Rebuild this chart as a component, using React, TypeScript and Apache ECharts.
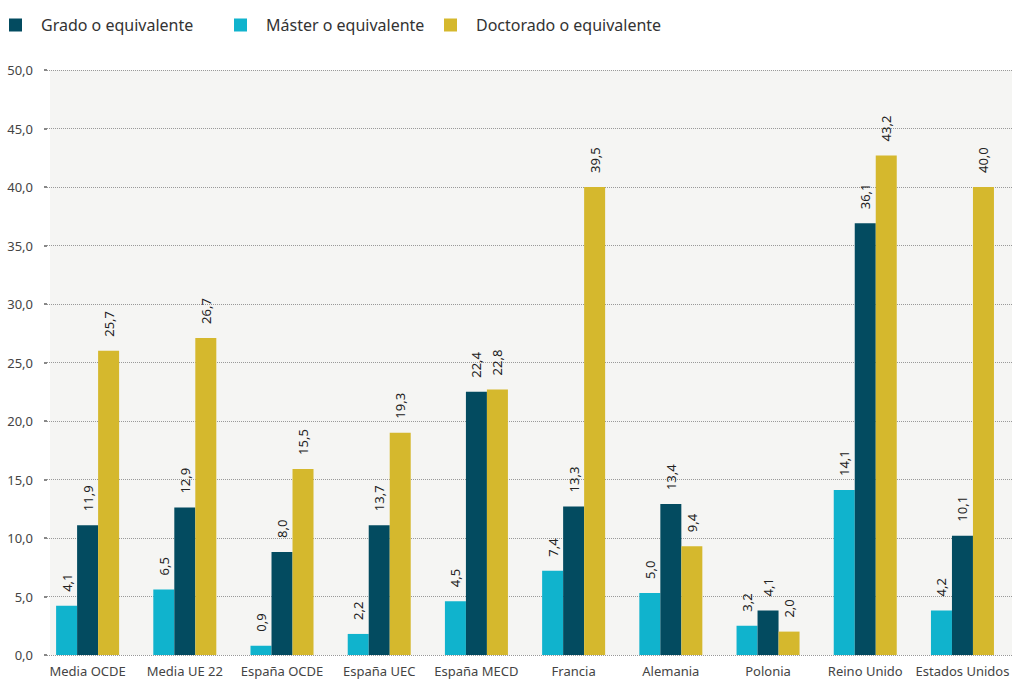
import React, { useEffect, useRef } from "react";
import * as echarts from "echarts";

const categories = [
  "Media OCDE",
  "Media UE 22",
  "España OCDE",
  "España UEC",
  "España MECD",
  "Francia",
  "Alemania",
  "Polonia",
  "Reino Unido",
  "Estados Unidos",
];

// bar heights as drawn
const masterValues = [4.2, 5.6, 0.8, 1.8, 4.6, 7.2, 5.3, 2.5, 14.1, 3.8];
const gradoValues = [11.1, 12.6, 8.8, 11.1, 22.5, 12.7, 12.9, 3.8, 36.9, 10.2];
const doctoradoValues = [26.0, 27.1, 15.9, 19.0, 22.7, 40.0, 9.3, 2.0, 42.7, 40.0];

// printed labels
const masterLabels = ["4,1", "6,5", "0,9", "2,2", "4,5", "7,4", "5,0", "3,2", "14,1", "4,2"];
const gradoLabels = ["11,9", "12,9", "8,0", "13,7", "22,4", "13,3", "13,4", "4,1", "36,1", "10,1"];
const doctoradoLabels = ["25,7", "26,7", "15,5", "19,3", "22,8", "39,5", "9,4", "2,0", "43,2", "40,0"];

const legendNames = ["Grado o equivalente", "Máster o equivalente", "Doctorado o equivalente"];

const yMin = 0;
const yMax = 50;
const yInterval = 5;

const FONT = "'Noto Sans', 'Open Sans', sans-serif";

export default function App() {
  const ref = useRef<HTMLDivElement>(null);

  useEffect(() => {
    if (!ref.current) return;
    const chart = echarts.init(ref.current, undefined, { renderer: "svg" });

    const mkLabel = (labels: string[]) => ({
      show: true,
      position: "top" as const,
      rotate: 90,
      align: "left" as const,
      verticalAlign: "middle" as const,
      distance: 14,
      fontSize: 13,
      fontFamily: FONT,
      color: "#222",
      formatter: (p: any) => labels[p.dataIndex],
    });

    const legendLefts = [9, 234, 444];
    const legends = legendNames.map((name, i) => ({
      left: legendLefts[i],
      top: 17,
      padding: 0,
      itemWidth: 13,
      itemHeight: 13,
      icon: "rect",
      data: [name],
      textStyle: {
        fontSize: 16,
        fontFamily: FONT,
        color: "#333",
        padding: [0, 0, 0, 14],
      },
    }));

    chart.setOption({
      animation: false,
      backgroundColor: "#ffffff",
      textStyle: { fontFamily: FONT },
      graphic: [
        {
          type: "rect",
          shape: { x: 50, y: 70, width: 962, height: 585 },
          style: { fill: "#f5f5f3" },
          z: -10,
          silent: true,
        },
      ],
      legend: legends,
      grid: [
        { left: 39, top: 70, width: 980, height: 585, containLabel: false },
        { left: 47, top: 70, right: 0, height: 585, containLabel: false },
      ],
      xAxis: [
        {
          type: "category",
          gridIndex: 0,
          data: categories,
          axisLine: { show: false },
          axisTick: { show: false },
          axisLabel: {
            margin: 9,
            fontSize: 13,
            fontFamily: FONT,
            color: "#444",
            interval: 0,
          },
        },
        {
          type: "value",
          gridIndex: 1,
          show: false,
          min: 0,
          max: 1,
        },
      ],
      yAxis: [
        {
          type: "value",
          gridIndex: 0,
          min: yMin,
          max: yMax,
          interval: yInterval,
          show: false,
          splitLine: { show: false },
        },
        {
          type: "value",
          gridIndex: 1,
          min: yMin,
          max: yMax,
          interval: yInterval,
          axisLine: { show: false },
          axisTick: {
            show: true,
            length: 3,
            lineStyle: { color: "#888", width: 2 },
          },
          axisLabel: {
            margin: 14,
            fontSize: 13,
            fontFamily: FONT,
            color: "#444",
            formatter: (v: number) => v.toFixed(1).replace(".", ","),
          },
          splitLine: {
            show: true,
            lineStyle: { color: "#999", type: [1, 1], width: 1 },
          },
        },
      ],
      series: [
        {
          name: "Máster o equivalente",
          type: "bar",
          xAxisIndex: 0,
          yAxisIndex: 0,
          data: masterValues,
          barWidth: 21,
          barGap: "0%",
          itemStyle: { color: "#10b3cd" },
          label: mkLabel(masterLabels),
        },
        {
          name: "Grado o equivalente",
          type: "bar",
          xAxisIndex: 0,
          yAxisIndex: 0,
          data: gradoValues,
          barWidth: 21,
          barGap: "0%",
          itemStyle: { color: "#034b60" },
          label: mkLabel(gradoLabels),
        },
        {
          name: "Doctorado o equivalente",
          type: "bar",
          xAxisIndex: 0,
          yAxisIndex: 0,
          data: doctoradoValues,
          barWidth: 21,
          barGap: "0%",
          itemStyle: { color: "#d5b82d" },
          label: mkLabel(doctoradoLabels),
        },
      ],
    });

    return () => chart.dispose();
  }, []);

  return (
    <div
      ref={ref}
      style={{ position: "absolute", left: 0, top: 0, width: 1012, height: 680 }}
    />
  );
}
